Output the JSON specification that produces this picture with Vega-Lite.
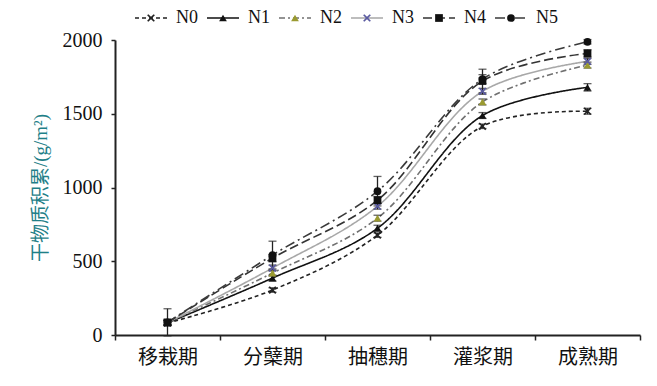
{
  "$schema": "https://vega.github.io/schema/vega-lite/v6.json",
  "autosize": {"type": "pad"},
  "padding": {"left": 31, "top": 9, "right": 5, "bottom": 5},
  "background": "white",
  "bounds": "flush",
  "spacing": 14,
  "resolve": {"scale": {"x": "independent", "y": "independent"}},
  "config": {
    "view": {"stroke": null},
    "font": "'Liberation Serif', 'Noto Sans CJK SC'"
  },
  "datasets": {
    "main": [
      {"series": "N0", "stage": "移栽期", "value": 81, "err": 15},
      {"series": "N0", "stage": "分蘖期", "value": 305, "err": 15},
      {"series": "N0", "stage": "抽穗期", "value": 677, "err": 15},
      {"series": "N0", "stage": "灌浆期", "value": 1415, "err": 15},
      {"series": "N0", "stage": "成熟期", "value": 1517, "err": 20},
      {"series": "N1", "stage": "移栽期", "value": 82, "err": 15},
      {"series": "N1", "stage": "分蘖期", "value": 386, "err": 20},
      {"series": "N1", "stage": "抽穗期", "value": 724, "err": 20},
      {"series": "N1", "stage": "灌浆期", "value": 1488, "err": 20},
      {"series": "N1", "stage": "成熟期", "value": 1679, "err": 25},
      {"series": "N2", "stage": "移栽期", "value": 83, "err": 15},
      {"series": "N2", "stage": "分蘖期", "value": 420, "err": 20},
      {"series": "N2", "stage": "抽穗期", "value": 792, "err": 20},
      {"series": "N2", "stage": "灌浆期", "value": 1580, "err": 20},
      {"series": "N2", "stage": "成熟期", "value": 1830, "err": 20},
      {"series": "N3", "stage": "移栽期", "value": 84, "err": 15},
      {"series": "N3", "stage": "分蘖期", "value": 454, "err": 20},
      {"series": "N3", "stage": "抽穗期", "value": 873, "err": 20},
      {"series": "N3", "stage": "灌浆期", "value": 1652, "err": 20},
      {"series": "N3", "stage": "成熟期", "value": 1855, "err": 20},
      {"series": "N4", "stage": "移栽期", "value": 85, "err": 20},
      {"series": "N4", "stage": "分蘖期", "value": 521, "err": 25},
      {"series": "N4", "stage": "抽穗期", "value": 914, "err": 25},
      {"series": "N4", "stage": "灌浆期", "value": 1722, "err": 80},
      {"series": "N4", "stage": "成熟期", "value": 1909, "err": 25},
      {"series": "N5", "stage": "移栽期", "value": 86, "err": 92},
      {"series": "N5", "stage": "分蘖期", "value": 542, "err": 94},
      {"series": "N5", "stage": "抽穗期", "value": 975, "err": 100},
      {"series": "N5", "stage": "灌浆期", "value": 1735, "err": 30},
      {"series": "N5", "stage": "成熟期", "value": 1988, "err": 15}
    ],
    "legend": [
      {"series": "N0", "row": "a"},
      {"series": "N1", "row": "a"},
      {"series": "N2", "row": "a"},
      {"series": "N3", "row": "a"},
      {"series": "N4", "row": "a"},
      {"series": "N5", "row": "a"}
    ]
  },
  "vconcat": [
    {
      "width": 432,
      "height": 16,
      "data": {"name": "legend"},
      "encoding": {
        "x": {
          "field": "series",
          "type": "nominal",
          "sort": ["N0", "N1", "N2", "N3", "N4", "N5"],
          "scale": {"type": "band", "paddingInner": 0, "paddingOuter": 0},
          "axis": null
        },
        "y": {"field": "row", "type": "nominal", "axis": null}
      },
      "layer": [
        {
          "mark": {"type": "rule", "xOffset": -16, "x2Offset": 16, "strokeWidth": 1.6},
          "encoding": {
            "x2": {"field": "series"},
            "stroke": {
              "field": "series",
              "type": "nominal",
              "scale": {
                "domain": ["N0", "N1", "N2", "N3", "N4", "N5"],
                "range": ["#222222", "#111111", "#707070", "#a8a8a8", "#333333", "#3a3a3a"]
              },
              "legend": null
            },
            "strokeDash": {
              "field": "series",
              "type": "nominal",
              "scale": {
                "domain": ["N0", "N1", "N2", "N3", "N4", "N5"],
                "range": [[4, 3], [1, 0], [6, 3, 2, 3], [1, 0], [9, 4], [10, 4, 2, 4]]
              },
              "legend": null
            }
          }
        },
        {
          "mark": {"type": "point", "filled": true, "opacity": 1},
          "encoding": {
            "shape": {"field": "series", "type": "nominal", "legend": null},
            "fill": {"field": "series", "type": "nominal", "legend": null},
            "size": {"field": "series", "type": "nominal", "legend": null}
          }
        },
        {
          "mark": {"type": "text", "align": "left", "baseline": "middle", "xOffset": 25, "fontSize": 18, "color": "#111"},
          "encoding": {
            "text": {"field": "series"}
          }
        }
      ]
    },
    {
      "width": 525,
      "height": 295,
      "data": {"name": "main"},
      "encoding": {
        "x": {
          "field": "stage",
          "type": "nominal",
          "sort": ["移栽期", "分蘖期", "抽穗期", "灌浆期", "成熟期"],
          "scale": {"paddingInner": 0, "paddingOuter": 0},
          "axis": {
            "title": null,
            "labelAngle": 0,
            "labelFontSize": 20,
            "labelColor": "#111",
            "labelPadding": 7,
            "tickBand": "extent",
            "tickSize": 5,
            "tickColor": "#222",
            "tickWidth": 1.5,
            "domainColor": "#222",
            "domainWidth": 2,
            "grid": false
          }
        },
        "y": {
          "field": "value",
          "type": "quantitative",
          "scale": {"domain": [0, 2000], "nice": false},
          "axis": {
            "title": "干物质积累/(g/m²)",
            "titleColor": "#1f7f88",
            "titleFontSize": 19,
            "titleFontWeight": "normal",
            "titlePadding": 12,
            "values": [0, 500, 1000, 1500, 2000],
            "format": "d",
            "labelFontSize": 20,
            "labelColor": "#111",
            "labelPadding": 9,
            "tickSize": 4,
            "tickColor": "#222",
            "tickWidth": 1.5,
            "domainColor": "#222",
            "domainWidth": 2,
            "grid": false
          }
        }
      },
      "layer": [
        {
          "mark": {"type": "line", "interpolate": "catmull-rom", "strokeWidth": 1.6},
          "encoding": {
            "stroke": {"field": "series", "type": "nominal", "legend": null},
            "strokeDash": {"field": "series", "type": "nominal", "legend": null}
          }
        },
        {
          "mark": {"type": "errorbar", "ticks": {"size": 8}, "color": "#222", "thickness": 1.3},
          "encoding": {
            "yError": {"field": "err"}
          }
        },
        {
          "mark": {"type": "point", "filled": true, "opacity": 1},
          "encoding": {
            "shape": {
              "field": "series",
              "type": "nominal",
              "scale": {
                "domain": ["N0", "N1", "N2", "N3", "N4", "N5"],
                "range": [
                  "M-1,-0.7L-0.7,-1L0,-0.3L0.7,-1L1,-0.7L0.3,0L1,0.7L0.7,1L0,0.3L-0.7,1L-1,0.7L-0.3,0Z",
                  "triangle-up",
                  "triangle-up",
                  "M-1,-0.7L-0.7,-1L0,-0.3L0.7,-1L1,-0.7L0.3,0L1,0.7L0.7,1L0,0.3L-0.7,1L-1,0.7L-0.3,0Z",
                  "square",
                  "circle"
                ]
              },
              "legend": null
            },
            "fill": {
              "field": "series",
              "type": "nominal",
              "scale": {
                "domain": ["N0", "N1", "N2", "N3", "N4", "N5"],
                "range": ["#222222", "#111111", "#9a9a30", "#5a5aa0", "#111111", "#111111"]
              },
              "legend": null
            },
            "size": {
              "field": "series",
              "type": "nominal",
              "scale": {
                "domain": ["N0", "N1", "N2", "N3", "N4", "N5"],
                "range": [60, 60, 30, 30, 40, 40]
              },
              "legend": null
            }
          }
        }
      ]
    }
  ]
}
